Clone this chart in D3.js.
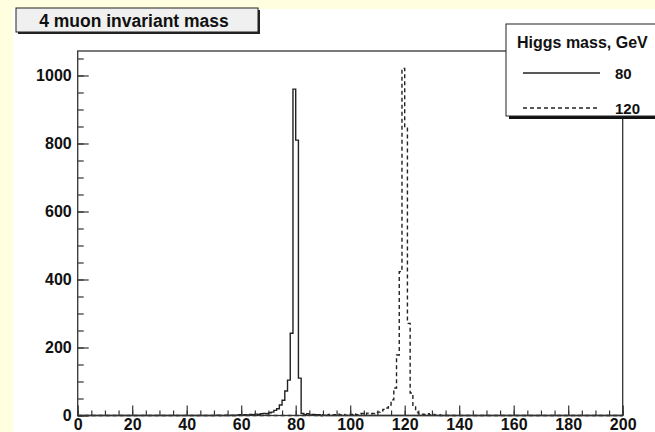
<!DOCTYPE html>
<html><head><meta charset="utf-8">
<script src="https://cdn.jsdelivr.net/npm/d3@7/dist/d3.min.js"></script>
<style>
html,body{margin:0;padding:0;background:#FFFFE0;}
svg{display:block;}
text{font-family:"Liberation Sans",Arial,Helvetica,sans-serif;font-weight:bold;fill:#111;}
</style></head>
<body>
<svg id="c" width="655" height="432"></svg>
<script>
// ---- data ----
const title = "4 muon invariant mass";
const legendTitle = "Higgs mass, GeV";
const seriesNames = ["80", "120"];
const xTickLabels = [0, 20, 40, 60, 80, 100, 120, 140, 160, 180, 200];
const yTickLabels = [0, 200, 400, 600, 800, 1000];
const binWidth = 1;            // GeV
const xMin = 0, xMax = 200;
const yMax = 1072;
// histogram for Higgs mass 80 GeV: counts of bins starting at h80Start
const h80Start = 50;
const h80 = [0,1,0,0,1,0,1,0,1,2, 1,2,1,3,2,4,3,5,6,5,
             8,10,15,20,31,45,72,104,242,960, 810,110,6,2,5,1,3,0,2,0, 1];
// histogram for Higgs mass 120 GeV
const h120Start = 85;
const h120 = [1,0,2,1,0,2,1,3,1,2, 4,2,3,1,4,3,5,2,4,6,
              3,7,5,6,8,10,14,18,22,31, 46,81,178,423,1021,845,271,66,25,10,
              6,4,3,5,2,3,1,2,0,1, 0];

// ---- layout ----
const svg = d3.select("#c");
svg.append("rect").attr("x",13).attr("y",9).attr("width",642).attr("height",423).attr("fill","#ffffff");

const x = d3.scaleLinear().domain([xMin, xMax]).range([77.7, 622.7]);
const y = d3.scaleLinear().domain([0, yMax]).range([415.5, 51]);

function fullBins(start, vals){
  const n = Math.round((xMax - xMin)/binWidth);
  const out = new Array(n).fill(0);
  vals.forEach((v,i)=>{ out[start - xMin + i] = v; });
  return out;
}
function stepPath(vals){
  let p = `M${x(xMin)},${y(0)}`;
  vals.forEach((v,i)=>{
    const x0 = x(xMin + i*binWidth), x1 = x(xMin + (i+1)*binWidth);
    p += `L${x0},${y(v)}L${x1},${y(v)}`;
  });
  p += `L${x(xMax)},${y(0)}`;
  return p;
}

const lineColor = "#222";
// histograms
svg.append("path").attr("d", stepPath(fullBins(h80Start, h80)))
  .attr("fill","none").attr("stroke",lineColor).attr("stroke-width",1.4);
svg.append("path").attr("d", stepPath(fullBins(h120Start, h120)))
  .attr("fill","none").attr("stroke",lineColor).attr("stroke-width",1.4)
  .attr("stroke-dasharray","4,3");

// axes
const gy = svg.append("g").attr("transform",`translate(${x(xMin)},0)`);
gy.call(d3.axisLeft(y).tickValues(d3.range(0, yMax, 50)).tickSize(-6).tickFormat(""));
gy.call(g=>g.select(".domain").remove());
const gy2 = svg.append("g").attr("transform",`translate(${x(xMin)},0)`);
gy2.call(d3.axisLeft(y).tickValues(yTickLabels).tickSize(-11).tickPadding(6).tickFormat(d3.format("d")));
gy2.call(g=>g.select(".domain").remove());

const gx = svg.append("g").attr("transform",`translate(0,${y(0)})`);
gx.call(d3.axisBottom(x).tickValues(d3.range(xMin, xMax+1, 5)).tickSize(-5).tickFormat(""));
gx.call(g=>g.select(".domain").remove());
const gx2 = svg.append("g").attr("transform",`translate(0,${y(0)})`);
gx2.call(d3.axisBottom(x).tickValues(xTickLabels).tickSize(-10).tickPadding(3).tickFormat(d3.format("d")));
gx2.call(g=>g.select(".domain").remove());

svg.selectAll(".tick line").attr("stroke","#333").attr("stroke-width",1.2);
svg.selectAll(".tick text").attr("font-size",16).attr("font-family",null).attr("fill","#111");

// frame
svg.append("rect").attr("x",x(xMin)).attr("y",y(yMax)).attr("width",x(xMax)-x(xMin)).attr("height",y(0)-y(yMax))
  .attr("fill","none").attr("stroke","#333").attr("stroke-width",1.3);

// title box
svg.append("rect").attr("x",18).attr("y",10).attr("width",242).attr("height",24).attr("fill","#222");
svg.append("rect").attr("x",16).attr("y",8).attr("width",242).attr("height",24).attr("fill","#f0f0f0")
  .attr("stroke","#222").attr("stroke-width",1);
svg.append("text").attr("x",134).attr("y",26.5).attr("text-anchor","middle").attr("font-size",17.5).text(title);

// legend
const lg = svg.append("g");
lg.append("rect").attr("x",509).attr("y",27).attr("width",160).attr("height",92).attr("fill","#111");
lg.append("rect").attr("x",506).attr("y",24).attr("width",160).attr("height",92).attr("fill","#fff")
  .attr("stroke","#222").attr("stroke-width",1);
lg.append("text").attr("x",517).attr("y",48).attr("font-size",16).text(legendTitle);
const legY = [73, 108];
seriesNames.forEach((s,i)=>{
  lg.append("line").attr("x1",523).attr("x2",600).attr("y1",legY[i]).attr("y2",legY[i])
    .attr("stroke",lineColor).attr("stroke-width",1.3).attr("stroke-dasharray", i===1 ? "4,3" : null);
  lg.append("text").attr("x",615).attr("y",legY[i]+6).attr("font-size",15).text(s);
});
</script>
</body></html>
